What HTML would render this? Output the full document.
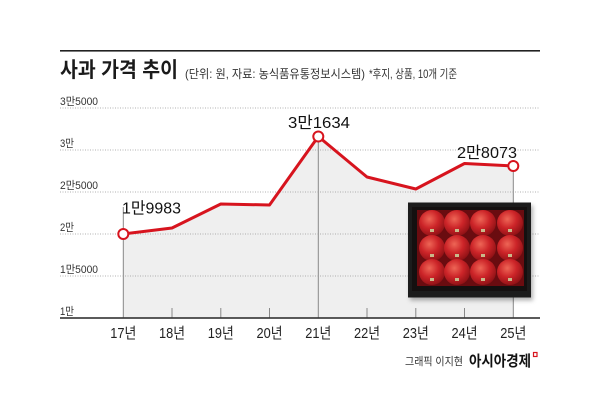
<!DOCTYPE html>
<html><head><meta charset="utf-8"><style>
html,body{margin:0;padding:0;background:#fff;}
svg{display:block;}
text{font-family:"Liberation Sans","Noto Sans CJK KR",sans-serif;}
</style></head><body>
<svg width="600" height="420" viewBox="0 0 600 420" xmlns="http://www.w3.org/2000/svg">
<defs>
<radialGradient id="ap" cx="0.4" cy="0.35" r="0.7">
<stop offset="0" stop-color="#ee6656"/>
<stop offset="0.5" stop-color="#cc2428"/>
<stop offset="1" stop-color="#8a1014"/>
</radialGradient>
<filter id="sh" x="-10%" y="-10%" width="130%" height="130%"><feDropShadow dx="2" dy="3" stdDeviation="2" flood-color="#000" flood-opacity="0.3"/></filter>
</defs>
<rect width="600" height="420" fill="#fff"/>
<rect x="60" y="50" width="480" height="1.6" fill="#222"/>
<text x="60" y="77" font-size="21" font-weight="bold" fill="#1a1a1a" textLength="118" lengthAdjust="spacingAndGlyphs">사과 가격 추이</text>
<text x="185" y="78" font-size="12" fill="#333" textLength="180" lengthAdjust="spacingAndGlyphs">(단위: 원, 자료: 농식품유통정보시스템)</text>
<text x="369" y="78" font-size="12" fill="#333" textLength="88" lengthAdjust="spacingAndGlyphs">*후지, 상품, 10개 기준</text>
<polygon points="123.3,234 172,228 220.8,204 269.5,205 318.3,136.5 367,177 415.8,189 464.5,163.5 513.3,166 513.3,318 123.3,318" fill="#efefef"/>
<g stroke="#999" stroke-width="0.8" stroke-dasharray="1,1.5">
<line x1="60" y1="108" x2="540" y2="108"/>
<line x1="60" y1="150" x2="540" y2="150"/>
<line x1="60" y1="192" x2="540" y2="192"/>
<line x1="60" y1="234" x2="540" y2="234"/>
<line x1="60" y1="276" x2="540" y2="276"/>
</g>
<g font-size="11" fill="#333">
<text x="60" y="105" textLength="38" lengthAdjust="spacingAndGlyphs">3만5000</text>
<text x="60" y="147" textLength="14" lengthAdjust="spacingAndGlyphs">3만</text>
<text x="60" y="189" textLength="38" lengthAdjust="spacingAndGlyphs">2만5000</text>
<text x="60" y="231" textLength="14" lengthAdjust="spacingAndGlyphs">2만</text>
<text x="60" y="273" textLength="38" lengthAdjust="spacingAndGlyphs">1만5000</text>
<text x="60" y="315" textLength="14" lengthAdjust="spacingAndGlyphs">1만</text>
</g>
<g stroke="#888" stroke-width="1">
<line x1="123.3" y1="207" x2="123.3" y2="318"/>
<line x1="318.3" y1="136.5" x2="318.3" y2="318"/>
<line x1="513.3" y1="166" x2="513.3" y2="318"/>
<line x1="172" y1="308" x2="172" y2="318"/>
<line x1="220.8" y1="308" x2="220.8" y2="318"/>
<line x1="269.5" y1="308" x2="269.5" y2="318"/>
<line x1="367" y1="308" x2="367" y2="318"/>
<line x1="415.8" y1="308" x2="415.8" y2="318"/>
<line x1="464.5" y1="308" x2="464.5" y2="318"/>
</g>
<g filter="url(#sh)">
<rect x="408" y="202.5" width="123" height="95" fill="#1c1c1c"/>
</g>
<rect x="412" y="207" width="115" height="84" fill="#141010"/>
<rect x="417" y="210" width="107" height="76" fill="#6a0c10"/>
<g fill="url(#ap)">
<circle cx="432" cy="223" r="13"/><circle cx="457" cy="223" r="13"/><circle cx="483" cy="223" r="13"/><circle cx="510" cy="223" r="13"/>
<circle cx="432" cy="248" r="13"/><circle cx="457" cy="248" r="13"/><circle cx="483" cy="248" r="13"/><circle cx="510" cy="248" r="13"/>
<circle cx="432" cy="272" r="13"/><circle cx="457" cy="272" r="13"/><circle cx="483" cy="272" r="13"/><circle cx="510" cy="272" r="13"/>
</g>
<g fill="#c9b98a">
<rect x="430" y="229" width="4" height="3"/><rect x="455" y="229" width="4" height="3"/><rect x="481" y="229" width="4" height="3"/><rect x="508" y="229" width="4" height="3"/>
<rect x="430" y="254" width="4" height="3"/><rect x="455" y="254" width="4" height="3"/><rect x="481" y="254" width="4" height="3"/><rect x="508" y="254" width="4" height="3"/>
<rect x="430" y="278" width="4" height="3"/><rect x="455" y="278" width="4" height="3"/><rect x="481" y="278" width="4" height="3"/><rect x="508" y="278" width="4" height="3"/>
</g>
<rect x="60" y="317.2" width="480" height="1.6" fill="#333"/>
<polyline points="123.3,234 172,228 220.8,204 269.5,205 318.3,136.5 367,177 415.8,189 464.5,163.5 513.3,166" fill="none" stroke="#d7141e" stroke-width="3" stroke-linejoin="round"/>
<g fill="#fff" stroke="#d7141e" stroke-width="2">
<circle cx="123.3" cy="234" r="5"/>
<circle cx="318.3" cy="136.5" r="5"/>
<circle cx="513.3" cy="166" r="5"/>
</g>
<g font-size="16" fill="#111">
<text x="122" y="213.5" textLength="59" lengthAdjust="spacingAndGlyphs">1만9983</text>
<text x="288" y="128" textLength="62" lengthAdjust="spacingAndGlyphs">3만1634</text>
<text x="457" y="158" textLength="60" lengthAdjust="spacingAndGlyphs">2만8073</text>
</g>
<g font-size="15" fill="#222" text-anchor="middle">
<text x="123.3" y="338" textLength="26" lengthAdjust="spacingAndGlyphs">17년</text>
<text x="172" y="338" textLength="26" lengthAdjust="spacingAndGlyphs">18년</text>
<text x="220.8" y="338" textLength="26" lengthAdjust="spacingAndGlyphs">19년</text>
<text x="269.5" y="338" textLength="26" lengthAdjust="spacingAndGlyphs">20년</text>
<text x="318.3" y="338" textLength="26" lengthAdjust="spacingAndGlyphs">21년</text>
<text x="367" y="338" textLength="26" lengthAdjust="spacingAndGlyphs">22년</text>
<text x="415.8" y="338" textLength="26" lengthAdjust="spacingAndGlyphs">23년</text>
<text x="464.5" y="338" textLength="26" lengthAdjust="spacingAndGlyphs">24년</text>
<text x="513.3" y="338" textLength="26" lengthAdjust="spacingAndGlyphs">25년</text>
</g>
<text x="405" y="365" font-size="11" fill="#333" textLength="58" lengthAdjust="spacingAndGlyphs">그래픽 이지현</text>
<text x="469" y="366" font-size="15" font-weight="bold" fill="#111" textLength="62" lengthAdjust="spacingAndGlyphs">아시아경제</text>
<rect x="533.5" y="352.5" width="3.5" height="4" fill="none" stroke="#d7141e" stroke-width="1.2"/>
</svg>
</body></html>
